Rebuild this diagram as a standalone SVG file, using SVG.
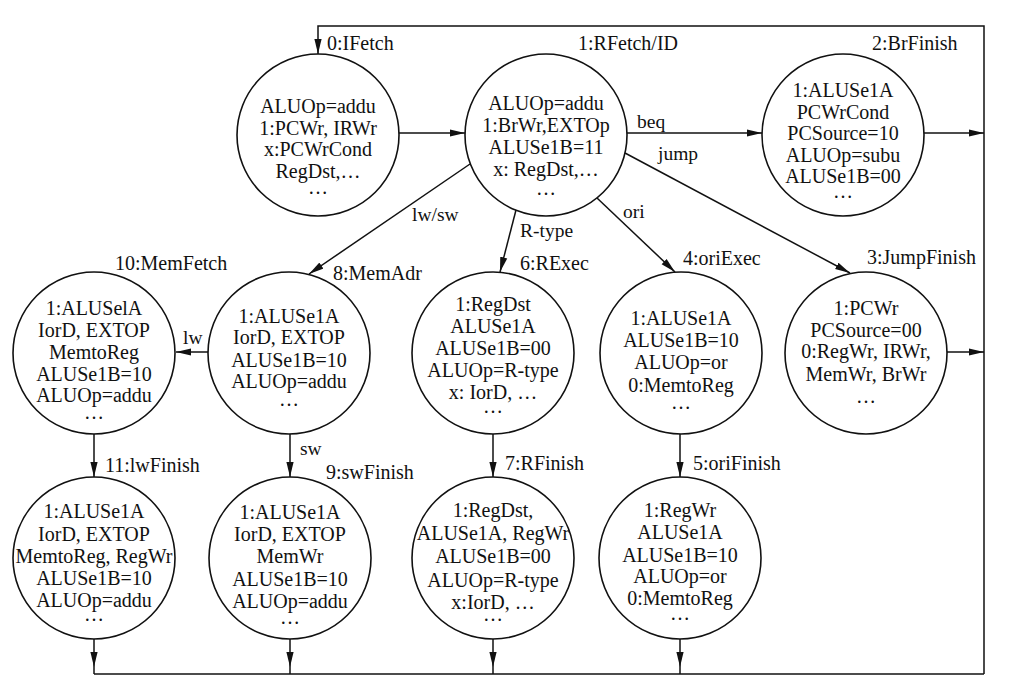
<svg xmlns="http://www.w3.org/2000/svg" width="1012" height="693" viewBox="0 0 1012 693">
<style>
.bg{fill:#ffffff}
.node circle{fill:none;stroke:#111;stroke-width:1.6}
text{font-family:"Liberation Serif","Times New Roman",serif;font-size:20px;fill:#111}
.body{text-anchor:middle}
.conn path{fill:none;stroke:#111;stroke-width:1.5}
.lbl{font-size:19.5px}
</style>
<defs>
<marker id="arr" markerUnits="userSpaceOnUse" markerWidth="16" markerHeight="8" refX="15" refY="4" orient="auto">
<path d="M0,0.4 L15,4 L0,7.6 z" fill="#111"/>
</marker>
</defs>
<rect class="bg" x="0" y="0" width="1012" height="693"/>

<g id="connectors" class="conn">
<path d="M984,674 V26 H318 V54" marker-end="url(#arr)"/>
<path d="M94,674 H984"/>
<path d="M399,133 H465" marker-end="url(#arr)"/>
<path d="M627,133 H762" marker-end="url(#arr)"/>
<path d="M924,133 H984" marker-end="url(#arr)"/>
<path d="M470,164 L309,274" marker-end="url(#arr)"/>
<path d="M516,210 L500,272" marker-end="url(#arr)"/>
<path d="M597,198 L675,272" marker-end="url(#arr)"/>
<path d="M625,153 L850,273" marker-end="url(#arr)"/>
<path d="M208,352 H176" marker-end="url(#arr)"/>
<path d="M947,352 H984" marker-end="url(#arr)"/>
<path d="M94,434 V477" marker-end="url(#arr)"/>
<path d="M290,434 V477" marker-end="url(#arr)"/>
<path d="M493,434 V477" marker-end="url(#arr)"/>
<path d="M680,434 V477" marker-end="url(#arr)"/>
<path d="M94,639 V667" marker-end="url(#arr)"/>
<path d="M290,639 V667" marker-end="url(#arr)"/>
<path d="M493,639 V667" marker-end="url(#arr)"/>
<path d="M680,639 V667" marker-end="url(#arr)"/>
<path d="M290,667 V674 M493,667 V674 M680,667 V674 M94,667 V674"/>
<text class="lbl" x="637" y="128">beq</text>
<text class="lbl" x="658" y="160">jump</text>
<text class="lbl" x="412" y="221">lw/sw</text>
<text class="lbl" x="520" y="237">R-type</text>
<text class="lbl" x="623" y="218">ori</text>
<text class="lbl" x="183" y="344">lw</text>
<text class="lbl" x="300" y="455">sw</text>
</g>

<g id="n0" class="node">
<circle cx="318" cy="135" r="81"/>
<text x="327" y="50">0:IFetch</text>
<text class="body" x="318" y="113">ALUOp=addu</text>
<text class="body" x="318" y="134.5">1:PCWr, IRWr</text>
<text class="body" x="318" y="156">x:PCWrCond</text>
<text class="body" x="318" y="177.5">RegDst,…</text>
<text class="body" x="318" y="194">…</text>
</g>

<g id="n1" class="node">
<circle cx="546" cy="135" r="81"/>
<text x="578" y="50">1:RFetch/ID</text>
<text class="body" x="546" y="110">ALUOp=addu</text>
<text class="body" x="546" y="132">1:BrWr,EXTOp</text>
<text class="body" x="546" y="154">ALUSe1B=11</text>
<text class="body" x="546" y="176">x: RegDst,…</text>
<text class="body" x="546" y="195">…</text>
</g>

<g id="n2" class="node">
<circle cx="843" cy="135" r="81"/>
<text x="872" y="50">2:BrFinish</text>
<text class="body" x="843" y="97">1:ALUSe1A</text>
<text class="body" x="843" y="118.5">PCWrCond</text>
<text class="body" x="843" y="140">PCSource=10</text>
<text class="body" x="843" y="161.5">ALUOp=subu</text>
<text class="body" x="843" y="183">ALUSe1B=00</text>
<text class="body" x="843" y="198">…</text>
</g>

<g id="n10" class="node">
<circle cx="94" cy="353" r="81"/>
<text x="115" y="270">10:MemFetch</text>
<text class="body" x="94" y="314.5">1:ALUSelA</text>
<text class="body" x="94" y="336.5">IorD, EXTOP</text>
<text class="body" x="94" y="359">MemtoReg</text>
<text class="body" x="94" y="380.5">ALUSe1B=10</text>
<text class="body" x="94" y="401.5">ALUOp=addu</text>
<text class="body" x="94" y="419">…</text>
</g>

<g id="n8" class="node">
<circle cx="289" cy="353" r="81"/>
<text x="333" y="280">8:MemAdr</text>
<text class="body" x="289" y="322.5">1:ALUSe1A</text>
<text class="body" x="289" y="344">IorD, EXTOP</text>
<text class="body" x="289" y="366.5">ALUSe1B=10</text>
<text class="body" x="289" y="388">ALUOp=addu</text>
<text class="body" x="289" y="406">…</text>
</g>

<g id="n6" class="node">
<circle cx="493" cy="353" r="81"/>
<text x="520" y="270">6:RExec</text>
<text class="body" x="493" y="310.5">1:RegDst</text>
<text class="body" x="493" y="333">ALUSe1A</text>
<text class="body" x="493" y="355">ALUSe1B=00</text>
<text class="body" x="493" y="376.5">ALUOp=R-type</text>
<text class="body" x="493" y="399">x: IorD, …</text>
<text class="body" x="493" y="413">…</text>
</g>

<g id="n4" class="node">
<circle cx="681" cy="353" r="81"/>
<text x="683" y="265">4:oriExec</text>
<text class="body" x="681" y="324.5">1:ALUSe1A</text>
<text class="body" x="681" y="346.5">ALUSe1B=10</text>
<text class="body" x="681" y="369">ALUOp=or</text>
<text class="body" x="681" y="391.5">0:MemtoReg</text>
<text class="body" x="681" y="409">…</text>
</g>

<g id="n3" class="node">
<circle cx="866" cy="353" r="81"/>
<text x="867" y="264">3:JumpFinish</text>
<text class="body" x="866" y="314.5">1:PCWr</text>
<text class="body" x="866" y="336.5">PCSource=00</text>
<text class="body" x="866" y="358">0:RegWr, IRWr,</text>
<text class="body" x="866" y="380.5">MemWr, BrWr</text>
<text class="body" x="866" y="403">…</text>
</g>

<g id="n11" class="node">
<circle cx="94" cy="558" r="81"/>
<text x="105" y="472">11:lwFinish</text>
<text class="body" x="94" y="518">1:ALUSe1A</text>
<text class="body" x="94" y="540.5">IorD, EXTOP</text>
<text class="body" x="94" y="563">MemtoReg, RegWr</text>
<text class="body" x="94" y="584.5">ALUSe1B=10</text>
<text class="body" x="94" y="607">ALUOp=addu</text>
<text class="body" x="94" y="621">…</text>
</g>

<g id="n9" class="node">
<circle cx="290" cy="558" r="81"/>
<text x="326" y="479">9:swFinish</text>
<text class="body" x="290" y="519">1:ALUSe1A</text>
<text class="body" x="290" y="540.5">IorD, EXTOP</text>
<text class="body" x="290" y="563">MemWr</text>
<text class="body" x="290" y="585.5">ALUSe1B=10</text>
<text class="body" x="290" y="608">ALUOp=addu</text>
<text class="body" x="290" y="624">…</text>
</g>

<g id="n7" class="node">
<circle cx="493" cy="558" r="81"/>
<text x="505" y="470">7:RFinish</text>
<text class="body" x="493" y="516.5">1:RegDst,</text>
<text class="body" x="493" y="539.5">ALUSe1A, RegWr</text>
<text class="body" x="493" y="563">ALUSe1B=00</text>
<text class="body" x="493" y="586.5">ALUOp=R-type</text>
<text class="body" x="493" y="609">x:IorD, …</text>
<text class="body" x="493" y="621">…</text>
</g>

<g id="n5" class="node">
<circle cx="680" cy="558" r="81"/>
<text x="693" y="470">5:oriFinish</text>
<text class="body" x="680" y="516.5">1:RegWr</text>
<text class="body" x="680" y="539">ALUSe1A</text>
<text class="body" x="680" y="561.5">ALUSe1B=10</text>
<text class="body" x="680" y="583">ALUOp=or</text>
<text class="body" x="680" y="605">0:MemtoReg</text>
<text class="body" x="680" y="620">…</text>
</g>
</svg>
